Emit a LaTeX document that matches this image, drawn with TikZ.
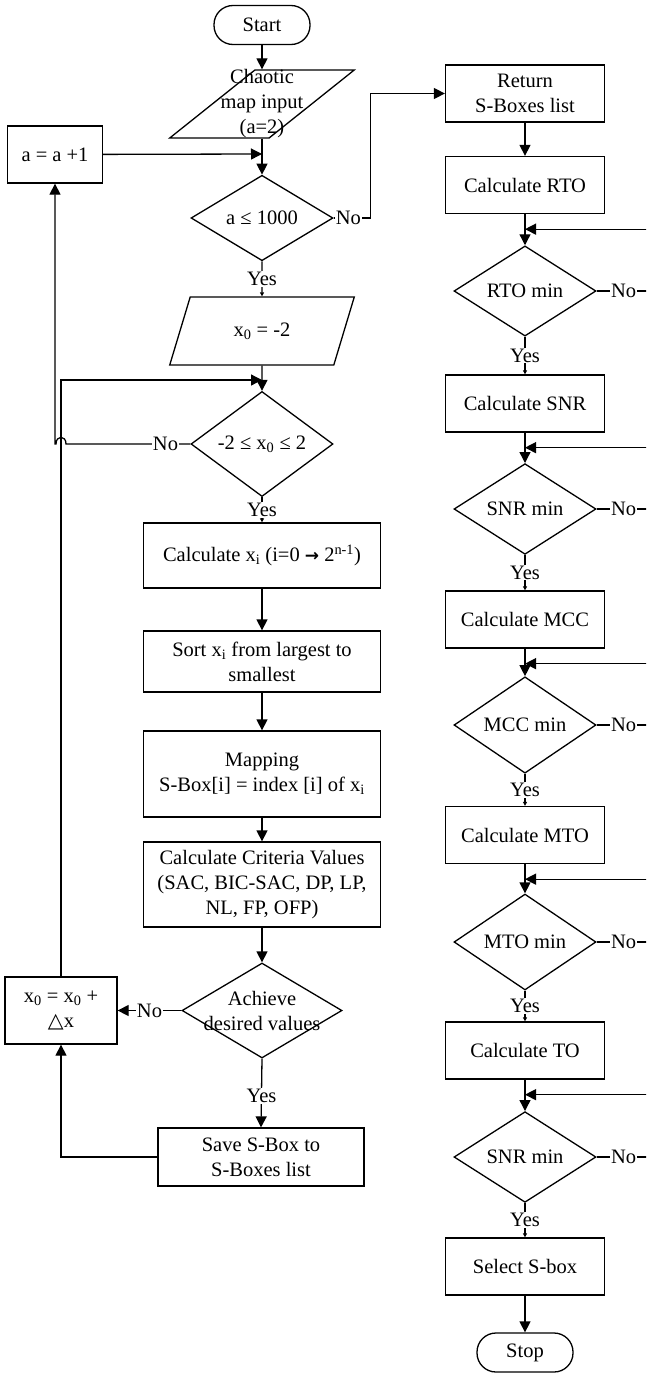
\documentclass[tikz,border=0pt]{standalone}
\usepackage{fontspec}
\setmainfont{Liberation Serif}
\newfontfamily\symfont{DejaVu Sans}
\usetikzlibrary{arrows.meta,shapes.geometric,calc}

\begin{document}
\begin{tikzpicture}[
  x=1pt, y=-1pt,
  font=\fontsize{20.5}{25}\selectfont,
  line width=1.3pt,
  box/.style={draw, minimum width=159pt, minimum height=57pt, align=center, inner sep=1pt},
  wbox/.style={box, minimum width=237pt},
  dec/.style={draw, diamond, minimum width=142pt, minimum height=84pt, inner sep=0pt, align=center},
  io/.style={draw, trapezium, trapezium left angle=66, trapezium right angle=114, trapezium stretches=true, minimum width=185pt, minimum height=68pt, inner sep=1pt, align=center},
  term/.style={draw, rounded corners=19pt, minimum width=96pt, minimum height=39pt},
  lab/.style={fill=white, inner sep=1pt},
  >={Triangle[length=11pt,width=11pt]},
  smalltip/.style={-{Triangle[length=4pt,width=4pt]}}
]
  \useasboundingbox (0,0) rectangle (646,1373);
  \clip (0,0) rectangle (646,1373);

  % Left column
  \node[term] (start) at (262,25) {Start};
  \node[io, label={[align=center]center:Chaotic\\map input\\(a=2)}] (p1) at (262,104) {\strut};
  \node[dec] (d1) at (262,218) {a ≤ 1000};
  \node[box, minimum width=95pt] (a1) at (55,154.5) {a = a +1};
  \node[io] (p2) at (262,331) {x\textsubscript{0} = -2};
  \node[dec] (d2) at (262,444) {-2 ≤ x\textsubscript{0} ≤ 2};
  \node[wbox, minimum height=65pt] (calc) at (262,555.5) {Calculate x\textsubscript{i} (i=0 {\symfont\bfseries\fontsize{17}{20}\selectfont →} 2\textsuperscript{n-1})};
  \node[wbox, minimum height=61pt] (sort) at (262,661.5) {Sort x\textsubscript{i} from largest to\\smallest};
  \node[wbox, minimum height=86pt] (map) at (262,774) {Mapping\\S-Box[i] = index [i] of x\textsubscript{i}};
  \node[wbox, minimum height=85pt] (crit) at (262,884.5) {Calculate Criteria Values\\(SAC, BIC-SAC, DP, LP,\\NL, FP, OFP)};
  \node[dec, minimum width=160pt, minimum height=95pt, label={[align=center]center:Achieve\\desired values}] (d3) at (262,1010.5) {\strut};
  \node[box, minimum width=112pt, minimum height=67pt] (dx) at (61,1010.5) {x\textsubscript{0} = x\textsubscript{0} +\\{\symfont △}x};
  \node[box, minimum width=206pt, minimum height=58pt] (save) at (261,1157) {Save S-Box to\\S-Boxes list};

  % Right column
  \node[box] (ret) at (525,93.5) {Return\\S-Boxes list};
  \node[box] (rto) at (525,185) {Calculate RTO};
  \node[dec] (rtomin) at (525,291) {RTO min};
  \node[box] (snr) at (525,403.5) {Calculate SNR};
  \node[dec] (snrmin) at (525,509) {SNR min};
  \node[box] (mcc) at (525,619.5) {Calculate MCC};
  \node[dec] (mccmin) at (525,725) {MCC min};
  \node[box] (mto) at (525,835) {Calculate MTO};
  \node[dec] (mtomin) at (525,942) {MTO min};
  \node[box] (to) at (525,1050.5) {Calculate TO};
  \node[dec] (tomin) at (525,1157) {SNR min};
  \node[box] (sel) at (525,1266.5) {Select S-box};
  \node[term] (stop) at (525,1352.5) {Stop};

  % Junctions
  \coordinate (j1) at (262,154);
  \coordinate (j2) at (262,380);
  \coordinate (fb1) at ($(rto.south)+(0,15)$);
  \coordinate (fb2) at ($(snr.south)+(0,15)$);
  \coordinate (fb3) at ($(mcc.south)+(0,15)$);
  \coordinate (fb4) at ($(mto.south)+(0,15)$);
  \coordinate (fb5) at ($(to.south)+(0,15)$);

  % Flows, left
  \draw[->] (start) -- (p1);
  \draw[->] (p1.south) -- (d1.north);
  \draw[->] (a1) -- (j1);
  \draw[->] (d1.east) -- node[lab, pos=0.4] {No} ++(37,0) |- (ret.west);
  \draw[smalltip] (d1.south) -- node[lab] {Yes} (p2.north);
  \draw[->] (p2.south) -- (d2.north);
  \draw[->] (dx.north) |- (j2);
  \draw[->] (d2.west) -- node[lab, pos=0.2] {No} (66,444) .. controls (66,435) and (56,435) .. (56,444) -- (a1.south |- d2.west) -- (a1.south);
  \draw[smalltip] (d2.south) -- node[lab] {Yes} (calc.north);
  \draw[->] (calc) -- (sort);
  \draw[->] (sort) -- (map);
  \draw[->] (map) -- (crit);
  \draw[->] (crit) -- (d3);
  \draw[->] (d3.west) -- node[lab] {No} (dx.east);
  \draw[->] (d3.south) -- node[lab, pos=0.54] {Yes} (save.north);
  \draw[->] (save.west) -| (dx.south);

  % Flows, right
  \draw[->] (ret) -- (rto);
  \draw[->] (rto) -- (rtomin);
  \draw[->] (rtomin.east) -- node[lab, pos=0.45] {No} ++(60,0) |- (fb1);
  \draw[smalltip] (rtomin.south) -- node[lab] {Yes} (snr.north);
  \draw[->] (snr) -- (snrmin);
  \draw[->] (snrmin.east) -- node[lab, pos=0.45] {No} ++(60,0) |- (fb2);
  \draw[smalltip] (snrmin.south) -- node[lab] {Yes} (mcc.north);
  \draw[->] (mcc) -- (mccmin);
  \draw[->] (mccmin.east) -- node[lab, pos=0.45] {No} ++(60,0) |- (fb3);
  \draw[smalltip] (mccmin.south) -- node[lab] {Yes} (mto.north);
  \draw[->] (mto) -- (mtomin);
  \draw[->] (mtomin.east) -- node[lab, pos=0.45] {No} ++(60,0) |- (fb4);
  \draw[smalltip] (mtomin.south) -- node[lab] {Yes} (to.north);
  \draw[->] (to) -- (tomin);
  \draw[->] (tomin.east) -- node[lab, pos=0.45] {No} ++(60,0) |- (fb5);
  \draw[smalltip] (tomin.south) -- node[lab] {Yes} (sel.north);
  \draw[->] (sel) -- (stop);
\end{tikzpicture}
\end{document}
